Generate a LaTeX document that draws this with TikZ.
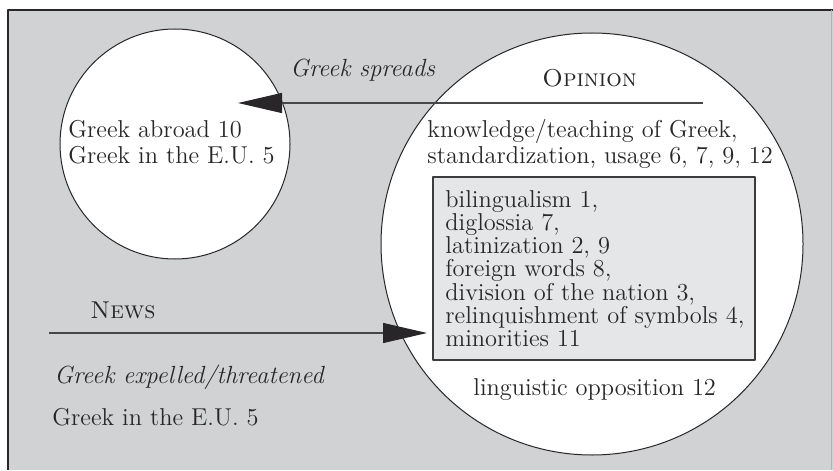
\documentclass[tikz,border=0pt]{standalone}
\usetikzlibrary{arrows.meta}
\definecolor{panelgray}{RGB}{209,210,212}
\definecolor{boxgray}{RGB}{229,230,232}
\definecolor{inkgray}{RGB}{40,38,40}
\begin{document}
\begin{tikzpicture}[x=0.5pt,y=-0.5pt,line join=round,>={Triangle[length=22pt,width=10pt,color=inkgray]},
  font=\fontsize{12.2}{11.7}\selectfont,
  blob/.style={circle,draw=inkgray,fill=white,line width=.5pt,inner sep=0pt},
  txt/.style={anchor=base west,inner sep=0pt,text=inkgray},
  slant/.style={txt,font=\fontsize{12.4}{12}\selectfont\itshape},
  flow/.style={->,draw=inkgray!85,line width=.6pt}]
\useasboundingbox (0,0) rectangle (833,470);
% panel
\fill[panelgray] (8,10) rectangle (833,470);
\draw[inkgray,line width=1pt] (8,470)--(8,10)--(833,10);
\draw[gray!60,line width=.5pt] (831,10)--(831,470);
% the two circles
\node[blob,minimum size=115pt] (abroad) at (175,144) {};
\node[blob,minimum size=211pt] (opin) at (592,244) {};
\draw[fill=boxgray,draw=inkgray!90,line width=.8pt] (433,177) rectangle (755,360);
% texts
\node[txt] (abr1) at (68,138) {Greek abroad 10};
\node[txt] (abr2) at (68,163) {Greek in the E.U. 5};
\node[slant] (spreads) at (290,77) {Greek spreads};
\node[txt] (opinion) at (542,87) {\textsc{Opinion}};
\node[txt] (know1) at (427,138) {knowledge/teaching of Greek,};
\node[txt] (know2) at (427,163) {standardization, usage 6, 7, 9, 12};
\foreach \t [count=\i from 0] in {{bilingualism 1,},{diglossia 7,},{latinization 2, 9},{foreign words 8,},{division of the nation 3,},{relinquishment of symbols 4,},{minorities 11}}
\node[txt] (l\i) at (445,{207+23.3*\i}) {\t};
\node[txt] (oppo) at (473,395) {linguistic opposition 12};
\node[txt] (news) at (90,318) {\textsc{News}};
\node[slant] (expel) at (54,383) {Greek expelled/threatened};
\node[txt] (eu) at (52,425) {Greek in the E.U. 5};
% arrows
\coordinate (spreadstart) at (703,103);
\coordinate (spreadtip) at (238,103);
\coordinate (newsstart) at (49,333);
\coordinate (newstip) at (427,333);
\draw[flow] (spreadstart)--(spreadtip);
\draw[flow] (newsstart)--(newstip);
\end{tikzpicture}
\end{document}
